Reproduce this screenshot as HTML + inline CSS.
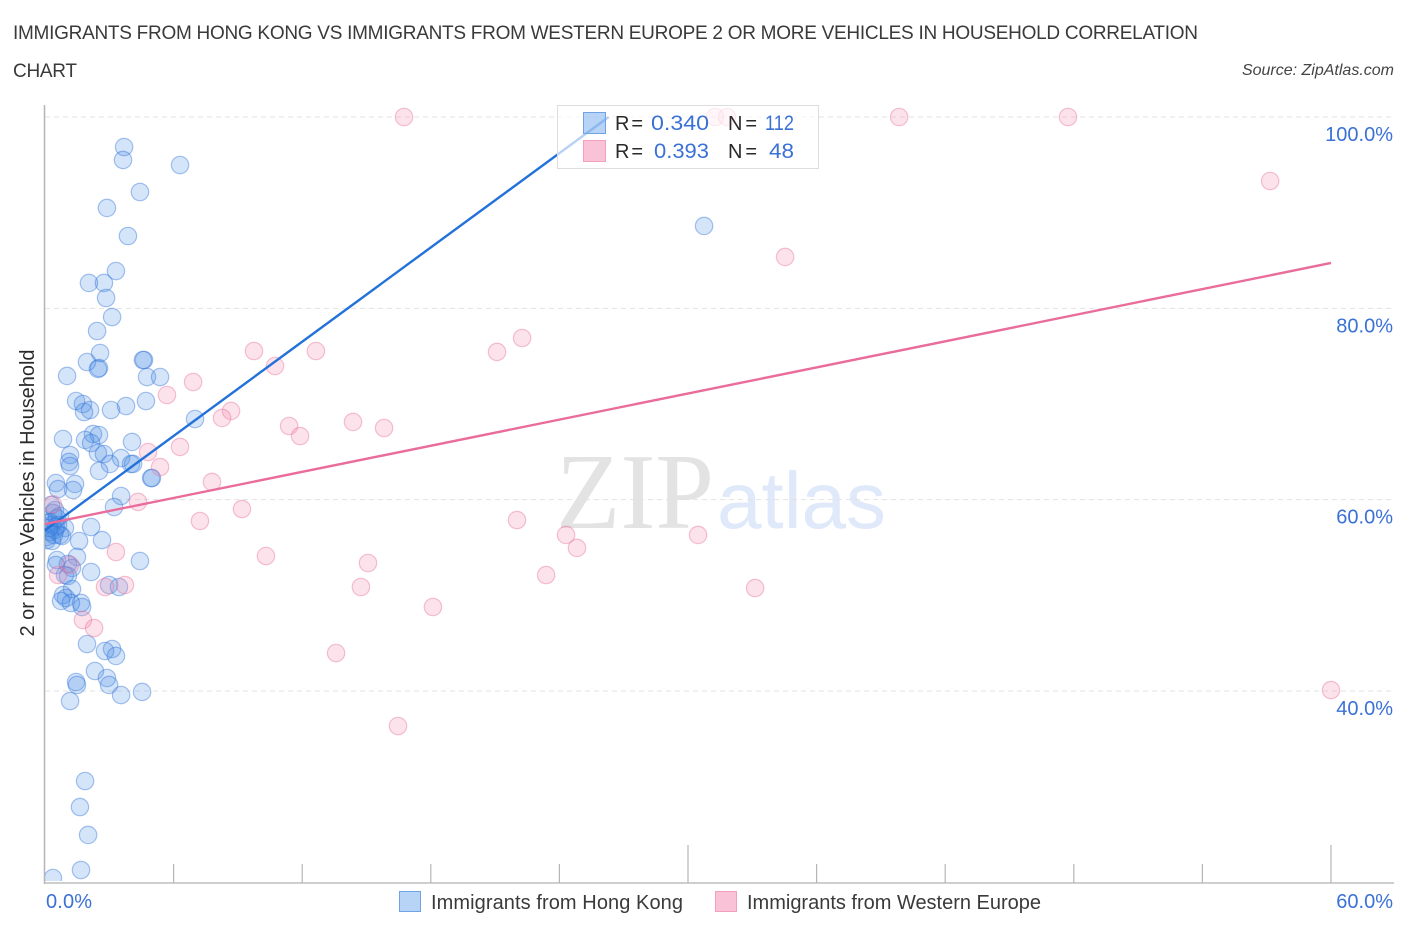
<!DOCTYPE html>
<html lang="en">
<head>
<meta charset="utf-8">
<title>Immigrants from Hong Kong vs Immigrants from Western Europe chart</title>
<style>
html,body{margin:0;padding:0;background:#fff;width:1406px;height:930px;overflow:hidden}
svg{display:block}
text{font-family:"Liberation Sans",sans-serif}
.blue{fill:#3b71d6}
.dark{fill:#2a2a2a}
</style>
</head>
<body>
<svg id="chart" width="1406" height="930" viewBox="0 0 1406 930" xmlns="http://www.w3.org/2000/svg">
  <defs>
    <clipPath id="plot-clip"><rect x="45" y="100" width="1349" height="781"/></clipPath>
  </defs>
  <text x="13" y="39" font-size="19" fill="#3a3a3a" textLength="1185" lengthAdjust="spacing">IMMIGRANTS FROM HONG KONG VS IMMIGRANTS FROM WESTERN EUROPE 2 OR MORE VEHICLES IN HOUSEHOLD CORRELATION</text>
  <text x="13" y="77" font-size="19" fill="#3a3a3a" textLength="64" lengthAdjust="spacing">CHART</text>
  <text x="1394" y="75" font-size="16" font-style="italic" text-anchor="end" fill="#444">Source: ZipAtlas.com</text>
  <g>
    <text x="556" y="528" font-size="108" style="font-family:'Liberation Serif',serif" fill="#e3e3e3" textLength="158" lengthAdjust="spacingAndGlyphs">ZIP</text>
    <text x="717" y="528" font-size="80" fill="#dfe9f9">atlas</text>
  </g>
  <g id="grid"></g>
  <g id="axes"></g>
  <g id="points" clip-path="url(#plot-clip)"></g>
  <g id="trends"></g>
  <g id="ylabels"></g>
  <text transform="translate(34,493) rotate(-90)" font-size="20" text-anchor="middle" fill="#2a2a2a" textLength="287" lengthAdjust="spacing">2 or more Vehicles in Household</text>
  <text x="46" y="908" font-size="20" class="blue" textLength="46" lengthAdjust="spacing">0.0%</text>
  <text x="1393" y="908" font-size="20" class="blue" text-anchor="end">60.0%</text>

  <g>
    <rect x="557.5" y="105.5" width="261" height="63" fill="#fff" fill-opacity="0.68" stroke="#ddd" stroke-width="1"/>
    <rect x="583.5" y="112.5" width="22" height="21" fill="#4a90e8" fill-opacity="0.4" stroke="#6fa3e8"/>
    <rect x="583.5" y="140.5" width="22" height="21" fill="#f7a8c4" fill-opacity="0.7" stroke="#f2a0bd"/>
    <text x="615" y="130" font-size="20" class="dark" textLength="28" lengthAdjust="spacing">R =</text>
    <text x="651" y="130" font-size="21" class="blue" textLength="58" lengthAdjust="spacingAndGlyphs">0.340</text>
    <text x="728" y="130" font-size="20" class="dark" textLength="29" lengthAdjust="spacing">N =</text>
    <text x="765" y="130" font-size="21" class="blue" textLength="29" lengthAdjust="spacingAndGlyphs">112</text>
    <text x="615" y="158" font-size="20" class="dark" textLength="28" lengthAdjust="spacing">R =</text>
    <text x="654" y="158" font-size="21" class="blue" textLength="55" lengthAdjust="spacingAndGlyphs">0.393</text>
    <text x="728" y="158" font-size="20" class="dark" textLength="29" lengthAdjust="spacing">N =</text>
    <text x="769" y="158" font-size="21" class="blue" textLength="25" lengthAdjust="spacingAndGlyphs">48</text>
  </g>

  <g>
    <rect x="399.5" y="891.5" width="21" height="20" fill="#4a90e8" fill-opacity="0.4" stroke="#6fa3e8"/>
    <text x="431" y="909" font-size="20" fill="#3a3a3a" textLength="252" lengthAdjust="spacing">Immigrants from Hong Kong</text>
    <rect x="715.5" y="891.5" width="21" height="20" fill="#f7a8c4" fill-opacity="0.7" stroke="#f2a0bd"/>
    <text x="747" y="909" font-size="20" fill="#3a3a3a" textLength="294" lengthAdjust="spacing">Immigrants from Western Europe</text>
  </g>
</svg>
<script>
const hongKongX = [3.69,3.64,6.30,4.43,2.89,3.87,3.31,2.05,2.75,2.85,3.13,2.43,2.57,1.96,4.62,4.57,2.52,2.47,1.03,4.76,5.37,4.71,1.45,1.77,3.78,3.08,2.10,1.82,7.00,2.24,2.52,0.84,4.06,1.87,2.15,1.17,1.12,2.47,2.75,3.55,3.03,4.01,4.11,1.17,2.52,4.95,4.99,0.51,1.40,0.61,1.31,3.55,3.22,0.47,0.37,0.70,0.23,0.33,0.51,0.93,2.15,0.23,0.70,0.09,0.33,1.59,2.66,1.49,0.56,4.43,1.07,0.51,1.26,2.15,0.93,1.07,1.26,2.99,3.45,0.84,0.98,0.75,1.68,1.21,1.73,1.96,3.13,2.80,3.31,2.33,1.45,1.49,2.89,2.99,3.55,4.53,1.17,1.87,1.63,2.01,1.68,0.37,30.75,0.14,0.47,0.61,0.09,0.28,0.42,0.79,0.19,0.56];
const hongKongY = [96.86,95.51,94.98,92.16,90.49,87.56,83.90,82.65,82.65,81.08,79.09,77.63,75.33,74.39,74.60,74.60,73.76,73.66,72.93,72.82,72.82,70.31,70.31,70.00,69.79,69.37,69.37,69.16,68.43,66.86,66.76,66.34,66.03,66.24,65.92,64.67,63.94,64.88,64.77,64.35,63.73,63.73,63.73,63.52,63.00,62.26,62.26,61.74,61.64,61.11,61.01,60.38,59.23,58.92,58.61,58.29,57.67,57.35,57.14,57.04,57.14,56.62,56.31,56.10,55.68,55.68,55.78,54.01,53.69,53.59,53.28,53.17,52.86,52.44,52.12,52.02,50.66,51.08,50.87,50.03,49.72,49.41,49.20,49.20,48.78,44.91,44.39,44.18,43.66,42.09,40.94,40.63,41.36,40.63,39.58,39.90,38.95,30.59,27.87,24.95,21.29,20.45,88.61,57.56,56.83,57.35,55.78,59.44,56.31,56.20,57.04,58.08];
const westernEuropeX = [16.75,31.26,31.82,39.85,47.73,57.16,34.53,9.75,12.64,21.09,22.26,10.73,6.91,5.69,8.68,8.26,11.39,11.90,14.37,15.82,6.30,4.81,5.37,7.79,4.34,9.19,7.23,22.02,24.31,24.82,30.47,3.31,10.31,15.07,23.38,1.17,0.61,33.13,3.73,2.80,14.74,18.10,1.77,2.29,13.58,16.47,60.00,0.37];
const westernEuropeY = [100,100,100,100,100,93.31,85.37,75.54,75.54,75.44,76.90,73.97,72.30,70.94,69.27,68.54,67.70,66.65,68.12,67.49,65.51,64.98,63.41,61.85,59.76,59.02,57.77,57.87,56.31,54.95,56.31,54.53,54.11,53.38,52.12,53.17,52.12,50.76,51.08,50.87,50.87,48.78,47.42,46.58,43.97,36.34,40.10,59.50];
const hongKongTrend = [56.8, 100];
const hongKongTrendX = [0, 26.3];
const westernEuropeTrend = [57.45, 84.74];
const westernEuropeTrendX = [0, 60];
const yTickValues = [100, 80, 60, 40];
const yTickLabels = ["100.0%", "80.0%", "60.0%", "40.0%"];
const xTickValues = [0, 6, 12, 18, 24, 30, 36, 42, 48, 54, 60];
const xMajorTicks = [30, 60];

const NS = "http://www.w3.org/2000/svg";
const xScale = v => 45 + v * (1331 - 45) / 60;
const yScale = v => 117 + (100 - v) * (691 - 117) / 60;

function make(parent, tag, attrs) {
  const el = document.createElementNS(NS, tag);
  for (const k in attrs) el.setAttribute(k, attrs[k]);
  parent.appendChild(el);
  return el;
}

const grid = document.getElementById("grid");
yTickValues.forEach(v => {
  const line = make(grid, "line", {x1: 45, x2: 1394, y1: yScale(v), y2: yScale(v), stroke: "#e2e2e2", "stroke-width": 1, "stroke-dasharray": "5 4"});
  
  
});

const axes = document.getElementById("axes");
const yAxisLine = make(axes, "line", {x1: 44.5, x2: 44.5, y1: 105, y2: 884, stroke: "#b5b5b5", "stroke-width": 1.5});


const xAxisLine = make(axes, "line", {x1: 44, x2: 1394, y1: 883, y2: 883, stroke: "#bdbdbd", "stroke-width": 1.5});


xTickValues.forEach(v => {
  if (v === 0) return;
  const top = xMajorTicks.includes(v) ? 845 : 864;
  const tick = make(axes, "line", {x1: xScale(v), x2: xScale(v), y1: top, y2: 883, stroke: "#b5b5b5", "stroke-width": 1.2});
  
  
});

const ylabels = document.getElementById("ylabels");
yTickValues.forEach((v, i) => {
  const t = make(ylabels, "text", {x: 1393, y: yScale(v) + 24, "font-size": 20, "text-anchor": "end", class: "blue"});
  
  
  t.textContent = yTickLabels[i];
});

const points = document.getElementById("points");
hongKongX.forEach((x, i) => {
  const c = make(points, "circle", {cx: xScale(x), cy: yScale(hongKongY[i]), r: 8.7, fill: "#4a90e8", "fill-opacity": 0.24, stroke: "#2f72d6", "stroke-opacity": 0.42, "stroke-width": 1.2});
  
  
});
westernEuropeX.forEach((x, i) => {
  const c = make(points, "circle", {cx: xScale(x), cy: yScale(westernEuropeY[i]), r: 8.7, fill: "#f48fb1", "fill-opacity": 0.26, stroke: "#e8709a", "stroke-opacity": 0.42, "stroke-width": 1.2});
  
  
});

const trends = document.getElementById("trends");
const blueLine = make(trends, "line", {x1: xScale(hongKongTrendX[0]), y1: yScale(hongKongTrend[0]), x2: xScale(hongKongTrendX[1]), y2: yScale(hongKongTrend[1]), stroke: "#2272d9", "stroke-width": 2.4});


const pinkLine = make(trends, "line", {x1: xScale(westernEuropeTrendX[0]), y1: yScale(westernEuropeTrend[0]), x2: xScale(westernEuropeTrendX[1]), y2: yScale(westernEuropeTrend[1]), stroke: "#ea6c9b", "stroke-width": 2.4});


</script>
</body>
</html>
